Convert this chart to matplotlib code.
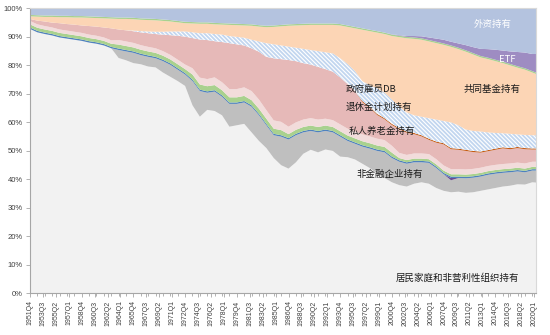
import numpy as np
import matplotlib
matplotlib.use('Agg')
import matplotlib.pyplot as plt

plt.rcParams['font.family'] = ['Liberation Sans', 'DejaVu Sans']
plt.rcParams['hatch.linewidth'] = 1.3

# ====================
# DATA (持股占比 %, 每年Q4, 最后一个点为2020Q2)
# ====================
data_quarters = [f'{y}Q4' for y in range(1951, 2020)] + ['2020Q2']

households = [
    92.8, 91.6, 91.0, 90.5, 89.8, 89.4, 89.0, 88.6, 88.0, 87.6,
    87.0, 86.0, 82.6, 81.8, 80.8, 80.4, 79.6, 79.3, 77.5, 76.0,
    74.5, 72.8, 66.0, 62.0, 64.4, 64.0, 62.5, 58.5, 59.0, 59.5,
    56.5, 53.5, 51.0, 47.5, 45.0, 43.8, 46.0, 49.0, 50.4, 49.5,
    50.5, 50.0, 48.0, 47.8, 47.0, 45.5, 44.0, 42.0, 40.5, 39.0,
    38.0, 37.5, 38.5, 39.0, 38.5, 37.0, 36.0, 35.5, 35.7, 35.3,
    35.5, 36.0, 36.5, 37.0, 37.5, 37.8, 38.3, 38.2, 39.0, 38.9,
]
nonfin_corp = [
    0, 0, 0, 0, 0, 0, 0, 0, 0, 0,
    0, 0, 2.8, 3.1, 3.6, 3.2, 3.4, 3.2, 4.0, 4.2,
    4.0, 4.0, 8.5, 9.0, 6.0, 6.8, 6.5, 8.0, 7.5, 7.5,
    9.0, 9.0, 8.0, 8.0, 10.0, 10.2, 9.5, 7.5, 6.6, 7.0,
    6.5, 6.5, 7.0, 5.7, 5.5, 6.0, 6.8, 8.0, 9.0, 8.5,
    8.2, 8.0, 7.5, 7.0, 7.3, 7.0, 5.8, 4.2, 4.8, 5.1,
    5.1, 5.0, 5.1, 5.0, 4.8, 4.7, 4.5, 4.3, 4.1, 4.2,
]
other_small = [
    0, 0, 0, 0, 0, 0, 0, 0, 0, 0,
    0, 0, 0, 0, 0, 0, 0, 0, 0, 0,
    0, 0, 0, 0, 0, 0, 0, 0, 0, 0,
    0, 0, 0, 0, 0, 0, 0, 0, 0, 0,
    0, 0, 0, 0, 0, 0, 0, 0, 0, 0,
    0, 0, 0, 0, 0, 0, 0, 0.8, 0, 0,
    0, 0, 0, 0, 0, 0, 0, 0, 0, 0,
]
blue_thin = [
    0.5, 0.5, 0.5, 0.5, 0.5, 0.5, 0.5, 0.5, 0.5, 0.5,
    0.5, 0.5, 0.5, 0.5, 0.5, 0.5, 0.5, 0.5, 0.5, 0.5,
    0.5, 0.5, 0.5, 0.5, 0.5, 0.5, 0.5, 0.5, 0.5, 0.5,
    0.5, 0.5, 0.5, 0.5, 0.5, 0.5, 0.5, 0.5, 0.5, 0.5,
    0.5, 0.5, 0.5, 0.5, 0.5, 0.5, 0.5, 0.5, 0.5, 0.5,
    0.5, 0.5, 0.5, 0.5, 0.5, 0.5, 0.5, 0.5, 0.5, 0.5,
    0.5, 0.5, 0.5, 0.5, 0.5, 0.5, 0.5, 0.5, 0.5, 0.5,
]
green_thin = [
    1.1, 1.1, 1.1, 1.1, 1.1, 1.1, 1.1, 1.1, 1.1, 1.1,
    1.1, 1.1, 1.4, 1.4, 1.4, 1.4, 1.4, 1.4, 1.4, 1.4,
    1.4, 1.4, 1.8, 1.8, 1.8, 1.8, 1.8, 1.8, 1.8, 1.8,
    1.8, 1.8, 1.8, 1.8, 1.8, 1.4, 1.4, 1.4, 1.4, 1.4,
    1.4, 1.4, 1.4, 1.4, 1.4, 1.4, 1.4, 1.4, 1.4, 1.4,
    0.8, 0.8, 0.8, 0.8, 0.8, 0.8, 0.8, 0.8, 0.8, 0.8,
    0.8, 0.8, 0.8, 0.8, 0.8, 0.8, 0.8, 0.8, 0.8, 0.8,
]
light_pink = [
    1.2, 1.2, 1.2, 1.2, 1.2, 1.2, 1.2, 1.2, 1.2, 1.2,
    1.2, 1.2, 1.6, 1.6, 1.6, 1.6, 1.6, 1.6, 1.6, 1.6,
    1.6, 1.6, 2.2, 2.4, 2.5, 2.7, 2.8, 2.9, 2.9, 3.0,
    3.2, 3.2, 3.0, 2.9, 2.9, 2.6, 2.6, 2.6, 2.6, 2.6,
    2.4, 2.4, 2.4, 2.4, 2.4, 2.4, 2.4, 2.4, 2.4, 2.4,
    1.8, 1.8, 1.8, 1.8, 1.8, 1.8, 1.8, 1.8, 1.8, 1.8,
    1.8, 1.8, 1.8, 1.8, 1.8, 1.8, 1.8, 1.8, 1.8, 1.8,
]
private_pension = [
    0.7, 1.3, 1.6, 1.7, 2.2, 2.3, 2.5, 2.6, 3.0, 3.2,
    3.5, 4.2, 3.7, 3.9, 4.1, 4.5, 4.8, 5.0, 5.8, 6.9,
    8.4, 9.8, 10.6, 13.4, 13.7, 12.7, 14.1, 16.1, 15.7, 14.7,
    15.0, 16.8, 18.7, 21.8, 22.0, 23.4, 21.5, 19.8, 18.8, 18.5,
    17.4, 17.0, 16.5, 15.7, 14.2, 11.3, 10.0, 8.3, 7.3, 7.3,
    8.3, 7.8, 6.8, 6.0, 5.0, 5.8, 7.4, 7.0, 6.8, 6.5,
    5.9, 5.3, 5.2, 5.3, 5.5, 5.0, 5.1, 5.0, 4.3, 4.3,
]
brown_thin = [
    0, 0, 0, 0, 0, 0, 0, 0, 0, 0,
    0, 0, 0, 0, 0, 0, 0, 0, 0, 0,
    0, 0, 0, 0, 0, 0, 0, 0, 0, 0,
    0, 0, 0, 0, 0, 0, 0, 0, 0, 0,
    0, 0, 0, 0, 0, 0.4, 0.4, 0.4, 0.4, 0.4,
    0.4, 0.4, 0.4, 0.4, 0.4, 0.4, 0.4, 0.4, 0.4, 0.4,
    0.4, 0.4, 0.4, 0.4, 0.4, 0.4, 0.4, 0.4, 0.4, 0.4,
]
gov_db = [
    0, 0, 0, 0, 0, 0, 0, 0, 0, 0,
    0, 0, 0, 0, 0.2, 0.4, 0.6, 0.8, 1.0, 1.3,
    1.5, 1.8, 2.0, 2.2, 2.4, 2.5, 2.6, 2.5, 2.6, 2.7,
    3.0, 3.6, 4.8, 4.9, 4.8, 4.7, 4.7, 5.0, 5.1, 5.5,
    5.9, 6.4, 6.7, 7.0, 7.0, 7.0, 7.5, 9.0, 9.0, 8.5,
    7.5, 6.7, 6.2, 6.5, 7.2, 7.7, 7.8, 9.0, 8.2, 7.1,
    7.0, 7.0, 6.2, 5.5, 4.9, 5.0, 4.4, 4.6, 4.6, 4.6,
]
mutual_fund = [
    0.9, 1.4, 1.6, 2.0, 2.1, 2.4, 2.5, 2.8, 2.9, 3.0,
    3.2, 3.4, 3.7, 4.0, 4.0, 4.0, 4.0, 4.0, 3.8, 3.5,
    3.2, 2.9, 3.1, 3.3, 3.3, 3.4, 3.5, 3.9, 4.1, 4.3,
    4.9, 5.2, 5.6, 6.1, 6.7, 7.3, 7.8, 8.3, 8.8, 9.2,
    9.6, 10.0, 11.5, 13.0, 15.0, 18.0, 19.0, 19.5, 20.5, 22.3,
    24.4, 26.0, 26.8, 27.0, 26.9, 26.8, 26.7, 26.5, 26.7, 27.3,
    26.8, 26.0, 25.7, 25.2, 24.6, 24.0, 23.4, 22.9, 22.0, 21.5,
]
green_thin2 = [
    0.5, 0.5, 0.5, 0.5, 0.5, 0.5, 0.5, 0.5, 0.5, 0.5,
    0.5, 0.5, 0.5, 0.5, 0.5, 0.5, 0.5, 0.5, 0.5, 0.5,
    0.5, 0.5, 0.5, 0.5, 0.5, 0.5, 0.5, 0.5, 0.5, 0.5,
    0.5, 0.5, 0.5, 0.5, 0.5, 0.5, 0.5, 0.5, 0.5, 0.5,
    0.5, 0.5, 0.5, 0.5, 0.5, 0.5, 0.5, 0.5, 0.5, 0.5,
    0.5, 0.5, 0.5, 0.5, 0.5, 0.5, 0.5, 0.5, 0.5, 0.5,
    0.5, 0.5, 0.5, 0.5, 0.5, 0.5, 0.5, 0.5, 0.5, 0.5,
]
etf = [
    0, 0, 0, 0, 0, 0, 0, 0, 0, 0,
    0, 0, 0, 0, 0, 0, 0, 0, 0, 0,
    0, 0, 0, 0, 0, 0, 0, 0, 0, 0,
    0, 0, 0, 0, 0, 0, 0, 0, 0, 0,
    0, 0, 0, 0, 0, 0, 0, 0, 0, 0.1,
    0.2, 0.3, 0.5, 0.7, 0.9, 1.1, 1.3, 1.3, 1.5, 1.8,
    2.1, 2.5, 3.0, 3.5, 3.9, 4.4, 5.0, 5.5, 6.0, 6.5,
]
foreign = [
    2.3, 2.4, 2.5, 2.5, 2.6, 2.6, 2.7, 2.7, 2.8, 2.9,
    3.0, 3.1, 3.2, 3.2, 3.3, 3.5, 3.6, 3.7, 3.9, 4.1,
    4.4, 4.7, 4.8, 4.9, 4.9, 5.1, 5.2, 5.3, 5.4, 5.5,
    5.6, 5.9, 6.1, 6.0, 5.8, 5.6, 5.5, 5.4, 5.3, 5.3,
    5.3, 5.3, 5.5, 6.0, 6.5, 7.0, 7.5, 8.0, 8.5, 9.1,
    9.4, 9.7, 9.7, 9.8, 10.2, 10.6, 11.0, 11.7, 12.3, 12.9,
    13.6, 14.2, 14.3, 14.5, 14.8, 15.1, 15.3, 15.5, 16.0, 16.0,
]

colors = ['#F2F2F2', '#BFBFBF', '#6A4C93', '#4F81BD', '#A9D18E', '#F2DCDB',
          '#E6B9B8', '#C55A11', '#FFFFFF', '#FCD5B5', '#A9D18E', '#9E8CC2',
          '#B4C3DF']


def q_index(label):
    y, q = int(label[:4]), int(label[-1])
    return (y - 1951) * 4 + q - 4


def q_label(i):
    return f'{1951 + (i + 3) // 4}Q{(i + 3) % 4 + 1}'


x = np.array([q_index(s) for s in data_quarters])
stack = np.array([households, nonfin_corp, other_small, blue_thin, green_thin,
                  light_pink, private_pension, brown_thin, gov_db, mutual_fund,
                  green_thin2, etf, foreign], dtype=float)
stack = stack / stack.sum(axis=0) * 100  # 100%堆积

fig = plt.figure(figsize=(5.5, 3.35), dpi=100)
ax = fig.add_axes([0.0545, 0.124, 0.92, 0.851])

polys = ax.stackplot(x, stack, colors=colors, linewidth=0)
# 政府雇员DB: 白底浅蓝斜纹
polys[8].set_edgecolor('#C2D6EF')
polys[8].set_hatch('\\' * 8)

ax.set_xlim(0, 274)
ax.set_ylim(0, 100)
ax.set_yticks(range(0, 101, 10))
ax.set_yticklabels([f'{v}%' for v in range(0, 101, 10)], fontsize=5.5, color='#404040')
tick_pos = list(range(0, 274, 7))
ax.set_xticks(tick_pos)
ax.set_xticklabels([q_label(i) for i in tick_pos], rotation=90, fontsize=5, color='#404040')
ax.set_xticks(range(0, 275, 4), minor=True)
ax.tick_params(axis='both', length=3, width=0.6, color='#A6A6A6', pad=2)
ax.tick_params(axis='x', which='minor', length=2, width=0.6, color='#A6A6A6')

for side in ['left', 'bottom']:
    ax.spines[side].set_color('#A6A6A6')
    ax.spines[side].set_linewidth(0.8)
for side in ['top', 'right']:
    ax.spines[side].set_color('#D9D9D9')
    ax.spines[side].set_linewidth(0.8)

cjk = ['Noto Sans CJK SC', 'DejaVu Sans']
ax.text(250.4, 94.5, '外资持有', fontsize=6.8, color='white', ha='center', va='center', family=cjk)
ax.text(258.5, 81.9, 'ETF', fontsize=6.8, color='white', ha='center', va='center', family=cjk)
ax.text(250.4, 71.4, '共同基金持有', fontsize=6.8, color='#1a1a1a', ha='center', va='center', family=cjk)
ax.text(170.7, 71.6, '政府雇员DB', fontsize=6.8, color='#1a1a1a', ha='left', va='center', family=cjk)
ax.text(170.7, 65.4, '退休金计划持有', fontsize=6.8, color='#1a1a1a', ha='left', va='center', family=cjk)
ax.text(190.8, 56.8, '私人养老金持有', fontsize=6.8, color='#1a1a1a', ha='center', va='center', family=cjk)
ax.text(194.6, 41.6, '非金融企业持有', fontsize=6.8, color='#1a1a1a', ha='center', va='center', family=cjk)
ax.text(231.4, 5.4, '居民家庭和非营利性组织持有', fontsize=6.8, color='#1a1a1a', ha='center', va='center', family=cjk)

fig.savefig('out.png', dpi=100)
